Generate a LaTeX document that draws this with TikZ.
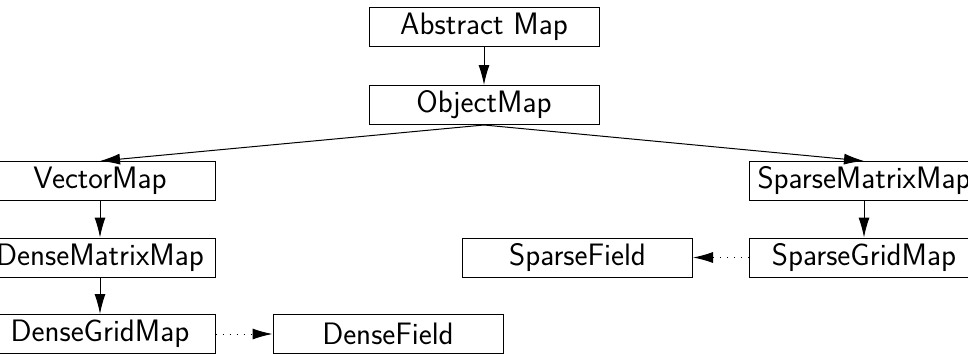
\documentclass[tikz,border=0pt]{standalone}
\usetikzlibrary{arrows.meta}
\begin{document}
\begin{tikzpicture}[x=1pt,y=-1pt,
  cls/.style={draw,line width=1pt,minimum width=230pt,minimum height=39pt,inner sep=0pt,
    font=\sffamily\fontsize{31}{36}\selectfont},
  inh/.style={line width=1pt,-{Latex[length=20pt,width=11pt]}},
  uses/.style={line width=1pt,dash pattern=on 1pt off 6pt,-{Latex[length=20pt,width=11pt]}}]
\useasboundingbox (0,0) rectangle (968,353);
\node[cls] (abs) at (484,27) {Abstract Map};
\node[cls] (obj) at (484,105) {ObjectMap};
\node[cls] (vec) at (100,181) {VectorMap};
\node[cls] (dmm) at (100,257.5) {DenseMatrixMap};
\node[cls] (dgm) at (100,334) {DenseGridMap};
\node[cls] (df) at (388,334) {DenseField};
\node[cls] (smm) at (864,181) {SparseMatrixMap};
\node[cls] (sgm) at (864,257.5) {SparseGridMap};
\node[cls] (sf) at (577.5,257.5) {SparseField};
\draw[inh] (abs) -- (obj);
\draw[inh] (obj.south) -- (vec.north);
\draw[inh] (obj.south) -- (smm.north);
\draw[inh] (vec) -- (dmm);
\draw[inh] (dmm) -- (dgm);
\draw[inh] (smm) -- (sgm);
\draw[uses] (dgm) -- (df);
\draw[uses] (sgm) -- (sf);
\end{tikzpicture}
\end{document}
